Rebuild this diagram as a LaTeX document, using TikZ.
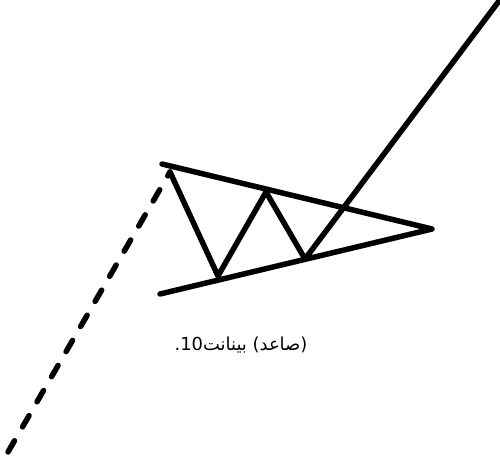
\documentclass[tikz,border=0pt]{standalone}
\usepackage{fontspec}
\usepackage{xcolor}
\usepackage{tikz}
\usetikzlibrary{calc}
\TeXXeTstate=1
\newfontfamily\arabicfont[Script=Arabic]{DejaVu Sans}
\definecolor{ink}{RGB}{0,0,0}
\tikzset{
  trend/.style={line width=1.1mm,draw=ink,line cap=round,line join=round},
  swing/.style={line width=1.1mm,draw=ink,line cap=round,line join=round},
  lead/.style={line width=1.1mm,draw=ink,line cap=round,dash pattern=on 2.6mm off 3.2mm},
  caption/.style={font=\arabicfont\fontsize{10.2}{12}\selectfont,inner sep=0pt}
}
\begin{document}
\begin{tikzpicture}[x=0.2mm,y=-0.2mm]
  \useasboundingbox (0,0) rectangle (500,457);
  \coordinate (apex) at (432,229);
  \coordinate (upper) at (162,164);
  \coordinate (lower) at (160,294);
  \coordinate (top0) at (170,172);
  \coordinate (base) at (8,452);
  \coordinate (low1) at (218,276);
  \coordinate (top1) at (266,192);
  \coordinate (low2) at (305,259);
  \coordinate (breakout) at (499,1);
  % pennant boundaries
  \draw[trend] (upper) -- (apex) -- (lower);
  % prior move and swings
  \draw[lead] (base) -- (top0);
  \draw[swing] (top0) -- (low1) -- (top1) -- (low2) -- (breakout);
  \node[caption] (label) at (241,345) {\beginR (صاعد) بينانت10.\endR};
\end{tikzpicture}
\end{document}
